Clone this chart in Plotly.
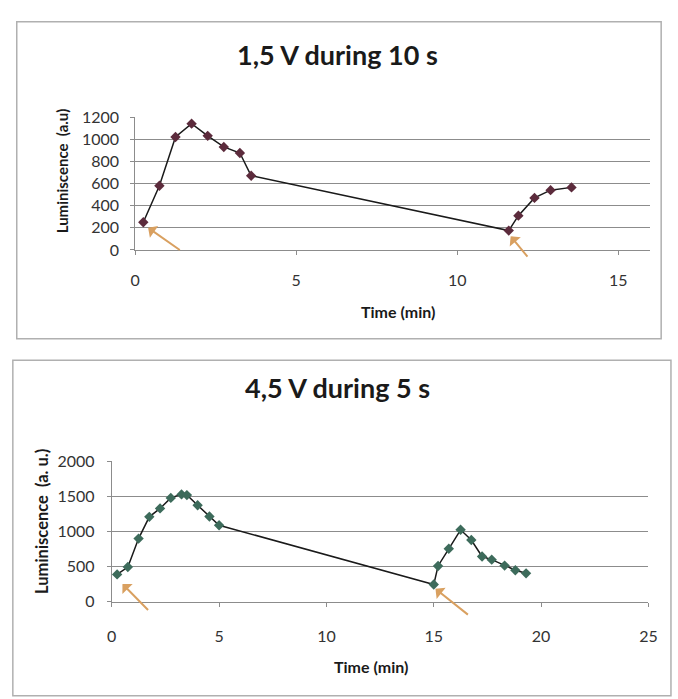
import plotly.graph_objects as go

# ---- Data: 1,5 V during 10 s ----
t1 = [0.25, 0.75, 1.25, 1.75, 2.25, 2.75, 3.25, 3.6, 11.6, 11.9, 12.4, 12.9, 13.55]
lum1 = [250, 580, 1020, 1140, 1030, 930, 875, 670, 175, 310, 470, 540, 565]

# ---- Data: 4,5 V during 5 s ----
t2 = [0.25, 0.75, 1.25, 1.75, 2.25, 2.75, 3.25, 3.5, 4.0, 4.55, 5.0,
      15.0, 15.2, 15.7, 16.25, 16.75, 17.25, 17.7, 18.3, 18.8, 19.3]
lum2 = [390, 495, 900, 1210, 1330, 1480, 1530, 1520, 1375, 1215, 1090,
        245, 510, 755, 1025, 880, 645, 600, 515, 450, 405]

# Arrows (head x, head y, tail x, tail y) in data units
arrows1 = [(0.4, 200, 1.43, -10), (11.66, 123, 12.22, -73)]
arrows2 = [(0.5, 254, 1.76, -139), (15.08, 184, 16.66, -200)]

titles = ["1,5 V during 10 s", "4,5 V during 5 s"]
ytitles = ["Luminiscence  (a.u)", "Luminiscence  (a. u.)"]
xtitle = "Time (min)"

FONT = "Lato, 'Open Sans', sans-serif"
GRID = "#8c8c8c"
ARROW = "#d9a060"

fig = go.Figure()

fig.add_trace(go.Scatter(
    x=t1, y=lum1, mode="lines+markers", xaxis="x", yaxis="y",
    line=dict(color="#1a1a1a", width=1.5),
    marker=dict(symbol="diamond", size=8, color="#5c2b3c"),
    cliponaxis=False, showlegend=False))

fig.add_trace(go.Scatter(
    x=t2, y=lum2, mode="lines+markers", xaxis="x2", yaxis="y2",
    line=dict(color="#1a1a1a", width=1.5),
    marker=dict(symbol="diamond", size=8, color="#3d6b5b"),
    cliponaxis=False, showlegend=False))

H, W = 699, 678
def py(p):
    return 1 - p / H
def px(p):
    return p / W

def axis_common(standoff):
    return dict(showline=True, linecolor=GRID, linewidth=1,
                ticks="outside", tickcolor=GRID, ticklen=4,
                ticklabelstandoff=standoff,
                tickfont=dict(family=FONT, size=16, color="#333333"),
                zeroline=False, fixedrange=True)

fig.update_layout(
    width=W, height=H,
    margin=dict(l=0, r=0, t=0, b=0),
    paper_bgcolor="white", plot_bgcolor="white",
    xaxis=dict(domain=[px(133), px(659)], range=[0, 16], tickvals=[0, 5, 10, 15],
               showgrid=False, anchor="y", **axis_common(12)),
    yaxis=dict(domain=[py(246.7), py(110)], range=[0, 1200], dtick=200,
               showgrid=True, gridcolor=GRID, gridwidth=1, anchor="x", **axis_common(8)),
    xaxis2=dict(domain=[px(109), px(657)], range=[0, 25], tickvals=[0, 5, 10, 15, 20, 25],
                showgrid=False, anchor="y2", **axis_common(16)),
    yaxis2=dict(domain=[py(608.3), py(464)], range=[0, 2000], dtick=500,
                showgrid=True, gridcolor=GRID, gridwidth=1, anchor="x2", **axis_common(9)),
)

# panel borders
fig.add_shape(type="rect", xref="paper", yref="paper",
              x0=px(12), x1=px(670), y0=py(338), y1=py(12),
              line=dict(color="#b0b0b0", width=1.5))
fig.add_shape(type="rect", xref="paper", yref="paper",
              x0=px(8), x1=px(680), y0=py(705), y1=py(360),
              line=dict(color="#b0b0b0", width=1.5))

def label(text, x, y, size, angle=0):
    return dict(text=text, x=px(x), y=py(y), xref="paper", yref="paper",
                xanchor="center", yanchor="middle", showarrow=False, textangle=angle,
                font=dict(family=FONT, size=size, color="#1a1a1a"))

ann = [
    label(f"<b>{titles[0]}</b>", 340, 46, 27),
    label(f"<b>{titles[1]}</b>", 340, 388, 27),
    label(f"<b>{ytitles[0]}</b>", 58, 165, 15, -90),
    label(f"<b>{ytitles[1]}</b>", 37, 526, 16.5, -90),
    label(f"<b>{xtitle}</b>", 401, 310, 16),
    label(f"<b>{xtitle}</b>", 374, 675, 16),
]

for (hx, hy, tx, ty) in arrows1:
    ann.append(dict(x=hx, y=hy, ax=tx, ay=ty, xref="x", yref="y", axref="x", ayref="y",
                    text="", showarrow=True, arrowhead=1, arrowsize=1.2, arrowwidth=2,
                    arrowcolor=ARROW))
for (hx, hy, tx, ty) in arrows2:
    ann.append(dict(x=hx, y=hy, ax=tx, ay=ty, xref="x2", yref="y2", axref="x2", ayref="y2",
                    text="", showarrow=True, arrowhead=1, arrowsize=1.2, arrowwidth=2,
                    arrowcolor=ARROW))

fig.update_layout(annotations=ann)

fig.write_html("out.html", config={"displayModeBar": False},
               post_script="document.body.style.margin='0';document.body.style.overflow='hidden';")
